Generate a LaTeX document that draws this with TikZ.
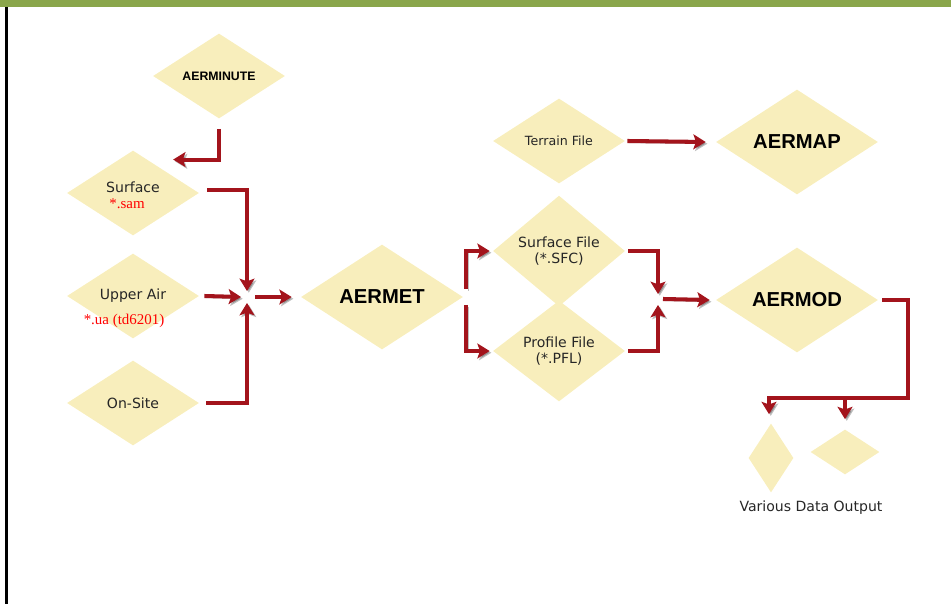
\documentclass[tikz,border=0pt]{standalone}
\usepackage{fontspec}
\usepackage{xcolor}
\usepackage{tikz}
\usetikzlibrary{shapes, arrows.meta, positioning, calc}
\newfontfamily\boxfont{DejaVu Sans}
\newfontfamily\headfont{Liberation Sans}
\newfontfamily\extfont{Liberation Serif}
\definecolor{diafill}{HTML}{F8EEBC}
\definecolor{flowred}{HTML}{A3141C}
\definecolor{barcolor}{HTML}{8AA64B}

\begin{document}
\begin{tikzpicture}[x=0.02cm, y=-0.02cm,
        dia/.style={diamond, fill=diafill, inner sep=0pt, minimum width=2.64cm,
            minimum height=1.7cm, align=center, text=black!85,
            font=\boxfont\fontsize{8}{9.5}\selectfont},
        bigdia/.style={dia, minimum width=3.24cm, minimum height=2.1cm, text=black,
            font=\headfont\bfseries\fontsize{11.5}{13}\selectfont},
        ext/.style={text=red, font=\extfont\fontsize{8.5}{10}\selectfont, inner sep=0pt},
        flow/.style={draw=flowred, line width=2.3pt,
            -{Stealth[length=7pt, width=8.5pt, inset=1.5pt]},
            preaction={draw=black, opacity=.25,
                transform canvas={xshift=1pt, yshift=-1pt}}}]
        \useasboundingbox (0,0) rectangle (951,604);
        \fill[barcolor] (0,0) rectangle (951,7);
        \draw[line width=1.4pt] (6.5,7) -- (6.5,604);

        \node[dia, font=\headfont\bfseries\fontsize{7}{8}\selectfont, text=black]
            at (219,76) (aerminute) {AERMINUTE};
        \node[dia, text depth=6.5pt] at (133,193) (surface) {Surface};
        \node[ext] at (127,204) (samfile) {*.sam};
        \node[dia] at (133,296) (upperair) {Upper Air};
        \node[ext] at (124,321) (uafile) {*.ua (td6201)};
        \node[dia] at (133,403) (onsite) {On-Site};

        \node[bigdia] at (382,297) (aermet) {AERMET};

        \node[dia, font=\boxfont\fontsize{7.2}{9}\selectfont] at (559,141) (terrain) {Terrain File};
        \node[bigdia] at (797,142) (aermap) {AERMAP};
        \node[dia] at (559,251) (sfcfile) {Surface File\\(*.SFC)};
        \node[dia] at (559,351) (pflfile) {Profile File\\(*.PFL)};
        \node[bigdia] at (797,300) (aermod) {AERMOD};

        \node[dia, minimum width=0.9cm, minimum height=1.38cm] at (771,458) (outa) {};
        \node[dia, minimum width=1.38cm, minimum height=0.9cm] at (845,452) (outb) {};
        \node[font=\boxfont\fontsize{8}{9.5}\selectfont, text=black!85] at (811,508) (outtext)
            {Various Data Output};

        \coordinate (j1) at (247,297);
        \coordinate (j2) at (658,299);
        \coordinate (bus) at (908,398);

        \draw[flow] ($(aerminute.south)+(0,10)$) |- ($(surface.north east)+(7,-12)$);
        \draw[flow] ($(surface.east)+(8,-3)$) -| ($(j1)+(0,-6)$);
        \draw[flow] ($(upperair.east)+(5,0)$) -- ($(j1)+(-6,0)$);
        \draw[flow] ($(onsite.east)+(7,0)$) -| ($(j1)+(0,6)$);
        \draw[flow] ($(j1)+(8,0)$) -- ($(aermet.west)+(-9,0)$);

        \draw[flow] ($(aermet.east)+(3,-8)$) |- ($(sfcfile.west)+(-3,0)$);
        \draw[flow] ($(aermet.east)+(3,8)$) |- ($(pflfile.west)+(-3,0)$);
        \draw[flow] ($(sfcfile.east)+(3,0)$) -| ($(j2)+(0,-5)$);
        \draw[flow] ($(pflfile.east)+(3,0)$) -| ($(j2)+(0,6)$);
        \draw[flow] ($(j2)+(5,0)$) -- ($(aermod.west)+(-6,0)$);

        \draw[flow] ($(terrain.east)+(2,0)$) -- ($(aermap.west)+(-10,0)$);

        \draw[flow] ($(aermod.east)+(4,0)$) -| (bus) -| ($(outa.north)+(-2,-9)$);
        \draw[flow] (outb.north |- bus) -- ($(outb.north)+(0,-10)$);
    \end{tikzpicture}
\end{document}
